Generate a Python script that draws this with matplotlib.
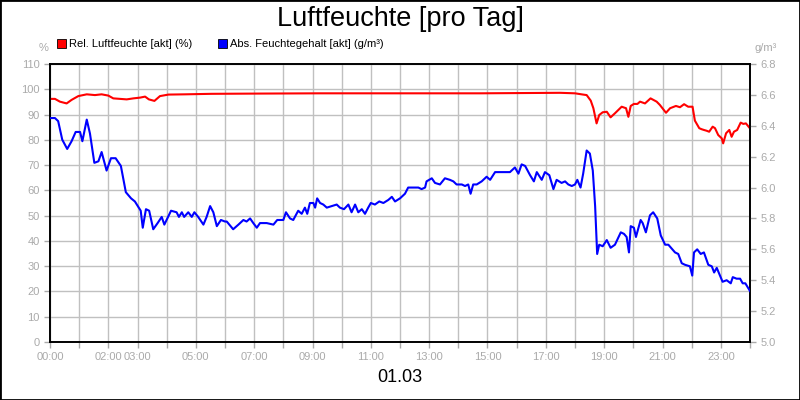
import matplotlib
matplotlib.use("Agg")
import matplotlib.pyplot as plt
from matplotlib.patches import Patch

plt.rcParams['font.family'] = ['Liberation Sans', 'DejaVu Sans']

# Relative humidity (%), time in hours
rel_hours = [0.0, 0.17, 0.34, 0.57, 0.74, 0.97, 1.26, 1.54, 1.77, 2.00, 2.17, 2.40, 2.63, 2.86,
             3.09, 3.26, 3.39, 3.58, 3.77, 4.06, 4.63, 5.54, 7.2, 9.26, 12.0, 14.74, 17.49,
             18.0, 18.28, 18.40, 18.54, 18.63, 18.74, 18.83, 18.95, 19.09, 19.22, 19.37, 19.60,
             19.75, 19.83, 19.91, 20.02, 20.14, 20.23, 20.40, 20.59, 20.80, 20.91, 21.12, 21.26,
             21.46, 21.60, 21.74, 21.88, 22.03, 22.11, 22.26, 22.34, 22.42, 22.51, 22.60, 22.72,
             22.80, 22.91, 23.03, 23.08, 23.18, 23.29, 23.37, 23.45, 23.56, 23.68, 23.77, 23.86,
             23.98]
rel_values = [96.2, 96.2, 95.1, 94.4, 95.8, 97.3, 98.0, 97.7, 98.0, 97.5, 96.4, 96.2, 96.0, 96.4,
              96.7, 97.1, 96.0, 95.4, 97.3, 97.9, 98.0, 98.2, 98.3, 98.4, 98.4, 98.4, 98.6,
              98.4, 97.9, 97.7, 95.5, 92.5, 86.5, 89.8, 90.9, 91.1, 88.9, 90.5, 93.1,
              92.5, 89.1, 93.4, 94.2, 94.2, 95.1, 94.4, 96.4, 95.1, 93.8, 90.7, 92.5,
              93.4, 92.9, 94.1, 93.1, 93.1, 87.6, 84.6, 84.2, 83.9, 83.6, 83.2, 85.2,
              84.6, 81.9, 80.6, 78.6, 82.6, 83.9, 81.2, 83.2, 83.9, 86.8, 86.3, 86.5,
              84.8]

# Absolute humidity (g/m³), time in hours
abs_hours = [0.03, 0.17, 0.28, 0.42, 0.59, 0.74, 0.88, 1.03, 1.11, 1.26, 1.37, 1.52, 1.66, 1.77,
             1.94, 2.09, 2.25, 2.43, 2.60, 2.78, 2.91, 3.11, 3.18, 3.29, 3.40, 3.54, 3.69, 3.83,
             3.92, 4.15, 4.34, 4.42, 4.52, 4.60, 4.74, 4.86, 4.95, 5.08, 5.26, 5.37, 5.49, 5.60,
             5.72, 5.86, 6.00, 6.06, 6.28, 6.46, 6.63, 6.74, 6.86, 6.97, 7.09, 7.20, 7.43, 7.66,
             7.79, 8.00, 8.09, 8.23, 8.34, 8.51, 8.63, 8.74, 8.82, 8.91, 9.03, 9.09, 9.16, 9.26,
             9.37, 9.49, 9.66, 9.83, 9.94, 10.08, 10.23, 10.34, 10.46, 10.57, 10.69, 10.80, 10.91,
             11.00, 11.14, 11.29, 11.43, 11.60, 11.72, 11.83, 12.00, 12.17, 12.28, 12.63, 12.74,
             12.86, 12.91, 13.09, 13.20, 13.37, 13.54, 13.71, 13.83, 13.94, 14.12, 14.23, 14.34,
             14.42, 14.51, 14.63, 14.80, 14.97, 15.09, 15.26, 15.43, 15.60, 15.77, 15.94, 16.06,
             16.17, 16.29, 16.46, 16.59, 16.69, 16.86, 16.97, 17.12, 17.26, 17.37, 17.54, 17.66,
             17.77, 17.89, 18.00, 18.08, 18.19, 18.28, 18.40, 18.51, 18.61, 18.69, 18.76, 18.83,
             18.95, 19.09, 19.22, 19.37, 19.57, 19.68, 19.77, 19.85, 19.91, 20.02, 20.09, 20.25,
             20.32, 20.43, 20.57, 20.68, 20.82, 20.94, 21.09, 21.20, 21.43, 21.54, 21.66, 21.77,
             21.94, 22.02, 22.08, 22.19, 22.31, 22.42, 22.57, 22.69, 22.77, 22.86, 23.06, 23.20,
             23.34, 23.41, 23.54, 23.66, 23.75, 23.84, 24.00]
abs_values = [6.45, 6.45, 6.43, 6.31, 6.25, 6.30, 6.36, 6.36, 6.30, 6.44, 6.35, 6.16, 6.17, 6.23,
              6.11, 6.19, 6.19, 6.14, 5.97, 5.93, 5.91, 5.85, 5.74, 5.86, 5.85, 5.73, 5.77, 5.81,
              5.76, 5.85, 5.84, 5.81, 5.84, 5.81, 5.84, 5.81, 5.84, 5.81, 5.76, 5.81, 5.88, 5.84,
              5.75, 5.79, 5.78, 5.78, 5.73, 5.76, 5.79, 5.78, 5.80, 5.77, 5.74, 5.77, 5.77, 5.76,
              5.79, 5.79, 5.84, 5.80, 5.79, 5.85, 5.83, 5.87, 5.83, 5.90, 5.90, 5.87, 5.93, 5.90,
              5.89, 5.87, 5.88, 5.89, 5.87, 5.86, 5.89, 5.84, 5.89, 5.84, 5.86, 5.83, 5.87,
              5.90, 5.89, 5.91, 5.90, 5.92, 5.94, 5.91, 5.93, 5.96, 6.00, 6.00, 5.99,
              6.00, 6.04, 6.06, 6.03, 6.02, 6.06, 6.05, 6.04, 6.02, 6.02, 6.01, 6.02,
              5.96, 6.02, 6.02, 6.04, 6.07, 6.05, 6.10, 6.10, 6.10, 6.10, 6.13, 6.09,
              6.15, 6.14, 6.08, 6.04, 6.10, 6.05, 6.10, 6.08, 5.99, 6.05, 6.03, 6.04,
              6.02, 6.01, 6.02, 6.05, 6.00, 6.09, 6.24, 6.22, 6.11, 5.88, 5.57, 5.63,
              5.62, 5.66, 5.61, 5.63, 5.71, 5.70, 5.68, 5.58, 5.75, 5.74, 5.68, 5.79,
              5.77, 5.71, 5.82, 5.84, 5.80, 5.69, 5.63, 5.63, 5.58, 5.57, 5.51, 5.50,
              5.49, 5.43, 5.58, 5.60, 5.57, 5.58, 5.50, 5.49, 5.45, 5.48, 5.39, 5.40,
              5.38, 5.42, 5.41, 5.41, 5.38, 5.38, 5.33]

x_label_hours = [0, 2, 3, 5, 7, 9, 11, 13, 15, 17, 19, 21, 23]
left_ticks = list(range(0, 111, 10))
right_ticks = [5.0, 5.2, 5.4, 5.6, 5.8, 6.0, 6.2, 6.4, 6.6, 6.8]

GRAY = '#aaaaaa'
GRID = '#c0c0c0'

fig = plt.figure(figsize=(8, 4), dpi=100)
fig.patch.set_facecolor('white')
ax = fig.add_axes([0.0625, 0.145, 0.875, 0.695])
ax2 = ax.twinx()

ax.plot(rel_hours, rel_values, color='#ff0000', lw=1.5, zorder=3)
ax2.plot(abs_hours, abs_values, color='#0000ff', lw=1.5, zorder=3)

ax.set_xlim(0, 24)
ax.set_ylim(0, 110)
ax2.set_ylim(5.0, 6.8)

ax.set_xticks(list(range(0, 25)))
ax.set_xticklabels([f"{h:02d}:00" if h in x_label_hours else "" for h in range(0, 25)])
ax.set_yticks(left_ticks)
ax.set_yticklabels([str(v) for v in left_ticks])
ax2.set_yticks(right_ticks)
ax2.set_yticklabels([f"{v:.1f}" for v in right_ticks])

ax.grid(True, color=GRID, lw=1.0)
ax.set_axisbelow(True)
for a in (ax, ax2):
    a.tick_params(axis='both', colors=GRAY, labelcolor=GRAY, labelsize=8, length=4, width=1)
    for s in a.spines.values():
        s.set_color('black')
        s.set_linewidth(1.2)

fig.text(0.5, 0.953, "Luftfeuchte [pro Tag]", ha='center', va='center', fontsize=19.5, color='black')
fig.text(0.5, 0.055, "01.03", ha='center', va='center', fontsize=13, color='black')
fig.text(0.054, 0.88, "%", ha='center', va='center', fontsize=8, color=GRAY)
fig.text(0.957, 0.88, "g/m³", ha='center', va='center', fontsize=8, color=GRAY)

handles = [Patch(facecolor='#ff0000', edgecolor='black', lw=0.6, label='Rel. Luftfeuchte [akt] (%)'),
           Patch(facecolor='#0000ff', edgecolor='black', lw=0.6, label='Abs. Feuchtegehalt [akt] (g/m³)')]
fig.legend(handles=handles, loc='center left', bbox_to_anchor=(0.0715, 0.889), ncol=2,
           frameon=False, fontsize=8, handlelength=0.8, handleheight=0.8, handletextpad=0.3,
           columnspacing=2.3, borderaxespad=0, borderpad=0)

border = plt.Rectangle((0, 0), 1, 1, transform=fig.transFigure, fill=False,
                       edgecolor='black', lw=2, zorder=10)
fig.patches.append(border)

fig.savefig("out.png", dpi=100, facecolor='white')
